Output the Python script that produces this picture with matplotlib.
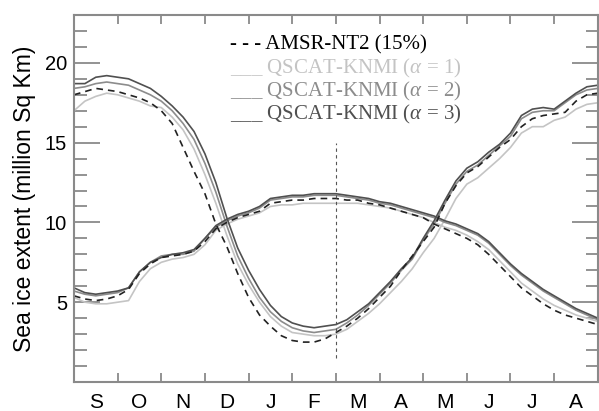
import matplotlib
matplotlib.use("Agg")
import matplotlib.pyplot as plt
from matplotlib.ticker import MultipleLocator

plt.rcParams['font.family'] = ['Liberation Sans', 'DejaVu Sans']
plt.rcParams['mathtext.fontset'] = 'custom'
plt.rcParams['mathtext.rm'] = 'Liberation Serif'
plt.rcParams['mathtext.it'] = 'Liberation Serif:italic'

# time axis in months since 1 September, sampled every quarter month
t = [i / 4 for i in range(49)]
month_labels = ['S', 'O', 'N', 'D', 'J', 'F', 'M', 'A', 'M', 'J', 'J', 'A']

# southern hemisphere style curve (high in Sep, minimum in Feb)
amsr_a = [18.0, 18.2, 18.4, 18.3, 18.2, 18.0, 17.8, 17.5, 17.0, 16.2, 14.7, 13.2,
          11.8, 9.9, 8.5, 6.8, 5.3, 4.2, 3.5, 2.9, 2.6, 2.5, 2.5, 2.7,
          3.1, 3.5, 4.0, 4.6, 5.3, 6.0, 7.0, 7.9, 8.8, 9.7, 11.2, 12.3,
          13.1, 13.5, 14.1, 14.7, 15.2, 16.0, 16.5, 16.7, 16.8, 16.9, 17.6, 18.0, 18.1]
qs1_a = [17.0, 17.6, 17.9, 18.1, 18.0, 17.8, 17.6, 17.3, 17.2, 16.6, 15.8, 14.6,
         13.0, 11.2, 9.2, 7.4, 6.1, 5.0, 4.1, 3.5, 3.1, 3.0, 2.9, 2.9,
         3.0, 3.3, 3.8, 4.3, 4.9, 5.6, 6.3, 7.1, 8.1, 9.0, 10.2, 11.5,
         12.4, 12.8, 13.4, 14.0, 14.7, 15.6, 16.0, 16.0, 16.4, 16.6, 17.1, 17.4, 17.5]
qs2_a = [18.4, 18.5, 18.7, 18.8, 18.7, 18.6, 18.3, 18.0, 17.6, 17.0, 16.2, 15.2,
         13.7, 11.9, 9.8, 7.9, 6.5, 5.3, 4.4, 3.8, 3.4, 3.2, 3.1, 3.2,
         3.3, 3.7, 4.2, 4.8, 5.5, 6.2, 7.0, 7.7, 8.9, 9.9, 11.2, 12.4,
         13.2, 13.6, 14.2, 14.8, 15.4, 16.5, 16.9, 17.0, 17.0, 17.5, 18.0, 18.3, 18.4]
qs3_a = [18.7, 18.7, 19.1, 19.2, 19.1, 19.0, 18.7, 18.4, 17.9, 17.3, 16.6, 15.7,
         14.3, 12.5, 10.3, 8.4, 7.0, 5.8, 4.8, 4.1, 3.7, 3.5, 3.4, 3.5,
         3.6, 3.9, 4.4, 4.9, 5.6, 6.3, 7.1, 7.8, 9.0, 10.1, 11.4, 12.6,
         13.4, 13.8, 14.4, 14.9, 15.6, 16.7, 17.1, 17.2, 17.1, 17.6, 18.1, 18.5, 18.6]

# northern hemisphere style curve (low in Sep, maximum in Mar)
amsr_b = [5.4, 5.2, 5.1, 5.2, 5.4, 5.8, 6.8, 7.4, 7.8, 7.9, 8.0, 8.2,
          8.8, 9.6, 10.0, 10.3, 10.5, 10.7, 11.2, 11.3, 11.4, 11.4, 11.5, 11.5,
          11.5, 11.4, 11.4, 11.2, 11.1, 10.9, 10.7, 10.5, 10.3, 9.9, 9.6, 9.3,
          9.0, 8.6, 8.0, 7.3, 6.6, 5.9, 5.4, 4.9, 4.5, 4.2, 4.0, 3.8, 3.6]
qs1_b = [5.3, 5.0, 4.9, 4.9, 5.0, 5.1, 6.3, 7.1, 7.5, 7.7, 7.8, 8.0,
         8.6, 9.5, 9.9, 10.2, 10.4, 10.6, 11.0, 11.1, 11.1, 11.2, 11.2, 11.2,
         11.2, 11.2, 11.2, 11.1, 11.0, 10.9, 10.7, 10.5, 10.3, 10.0, 9.7, 9.5,
         9.2, 8.8, 8.3, 7.6, 6.9, 6.2, 5.7, 5.2, 4.8, 4.5, 4.2, 4.0, 3.8]
qs2_b = [5.7, 5.5, 5.4, 5.5, 5.6, 5.9, 6.9, 7.5, 7.9, 8.0, 8.0, 8.2,
         9.0, 9.7, 10.1, 10.4, 10.6, 10.9, 11.4, 11.5, 11.6, 11.6, 11.7, 11.7,
         11.7, 11.6, 11.5, 11.4, 11.2, 11.1, 10.9, 10.7, 10.5, 10.3, 10.0, 9.8,
         9.5, 9.2, 8.7, 8.0, 7.3, 6.7, 6.2, 5.7, 5.3, 4.9, 4.5, 4.2, 3.9]
qs3_b = [5.9, 5.6, 5.5, 5.6, 5.7, 5.9, 6.9, 7.5, 7.8, 8.0, 8.1, 8.3,
         9.0, 9.8, 10.2, 10.5, 10.7, 11.0, 11.5, 11.6, 11.7, 11.7, 11.8, 11.8,
         11.8, 11.7, 11.6, 11.5, 11.3, 11.2, 11.0, 10.8, 10.6, 10.4, 10.1, 9.9,
         9.6, 9.3, 8.8, 8.1, 7.4, 6.8, 6.3, 5.8, 5.4, 5.0, 4.6, 4.3, 4.0]

c1, c2, c3 = '#c4c4c4', '#8c8c8c', '#505050'
spine_c = '#8a8a8a'

fig = plt.figure(figsize=(5.99, 4.11), dpi=100)
ax = fig.add_axes([0.1235, 0.0706, 0.8745, 0.8929])

for a, b, col in [(qs1_a, qs1_b, c1), (qs2_a, qs2_b, c2), (qs3_a, qs3_b, c3)]:
    ax.plot(t, a, color=col, lw=1.2)
    ax.plot(t, b, color=col, lw=1.2)
ax.plot(t, amsr_a, color='#222222', lw=1.2, ls=(0, (4, 3)))
ax.plot(t, amsr_b, color='#222222', lw=1.2, ls=(0, (4, 3)))

# 1 March marker
ax.vlines(6, 1.5, 15, color='#555555', lw=0.8, linestyles=(0, (3, 3)))

ax.set_xlim(0, 12)
ax.set_ylim(0, 23)
ax.set_xticks(range(13))
ax.set_xticklabels([])
ax.set_xticks([m + 0.5 for m in range(12)], minor=True)
ax.set_xticklabels(month_labels, minor=True, fontsize=15)
ax.set_yticks([5, 10, 15, 20])
ax.yaxis.set_minor_locator(MultipleLocator(1))
ax.tick_params(axis='y', which='major', direction='in', length=18.5, width=1.3,
               color=spine_c, labelsize=14.5, left=True, right=True, pad=5)
ax.tick_params(axis='y', which='minor', direction='in', length=9, width=1.3,
               color=spine_c, left=True, right=True)
ax.tick_params(axis='x', which='major', direction='in', length=6.5, width=1.3,
               color=spine_c, top=True, bottom=True)
ax.tick_params(axis='x', which='minor', length=0, pad=8)
for s in ax.spines.values():
    s.set_color(spine_c)
    s.set_linewidth(1.5)

ax.set_ylabel('Sea ice extent (million Sq Km)', fontsize=16.5, labelpad=6)

legend_items = [('- - - AMSR-NT2 (15%)', 'black'),
                ('___ QSCAT-KNMI ($\\alpha$ = 1)', c1),
                ('___ QSCAT-KNMI ($\\alpha$ = 2)', c2),
                ('___ QSCAT-KNMI ($\\alpha$ = 3)', c3)]
for i, (txt, col) in enumerate(legend_items):
    fig.text(230 / 599, 1 - (45 + 23.3 * i) / 411, txt, color=col, fontsize=15,
             family='Liberation Serif', va='center', ha='left')

fig.savefig('out.png', dpi=100)
